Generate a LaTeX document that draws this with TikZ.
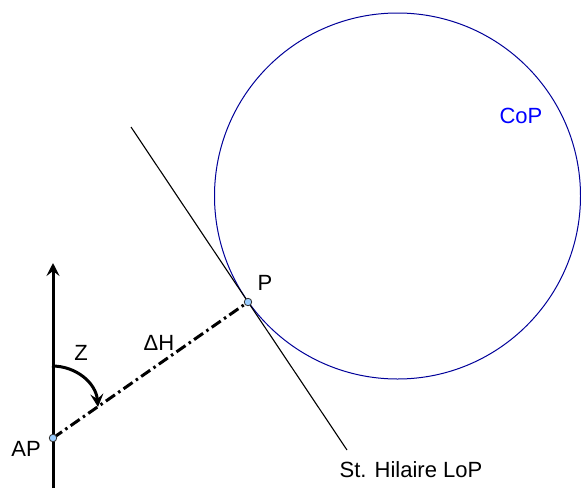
\documentclass[tikz,border=0pt]{standalone}
\usepackage{fontspec}
\setmainfont{Liberation Sans}
\usetikzlibrary{arrows.meta}
\definecolor{circblue}{RGB}{0,0,153}
\definecolor{ptfill}{RGB}{153,204,255}
\begin{document}
\begin{tikzpicture}[x=1pt,y=-1pt,
  lbl/.style={font=\fontsize{22}{26}\selectfont, inner sep=0pt},
  pt/.style={circle, draw=black!80, fill=ptfill, line width=0.8pt, minimum size=7.5pt, inner sep=0pt},
  thickline/.style={line width=3pt},
  tip/.style={-{Stealth[length=13pt,width=13pt,inset=5pt]}},
  dashdot/.style={line width=3pt, dash pattern=on 11pt off 4pt on 2.5pt off 4pt}]
\useasboundingbox (0,0) rectangle (581,488);
% circle of position
\node[draw=circblue, line width=1pt, circle, minimum size=366pt, inner sep=0pt] (cop) at (397.5,196) {};
\node[lbl, text=blue] (coplbl) at (521,116) {CoP};
% tangent line
\coordinate (t1) at (131,127);
\coordinate (t2) at (347,450);
\draw[line width=1.1pt] (t1) -- (t2);
% vertical axis
\coordinate (vbot) at (53,488);
\coordinate (vtop) at (53,263);
\draw[thickline, tip] (vbot) -- (vtop);
% points
\coordinate (APc) at (53,438);
\coordinate (Pc) at (248,302);
\draw[dashdot] (APc) -- (Pc);
% angle arc
\coordinate (zs) at (52,366);
\coordinate (ze) at (98,407);
\draw[thickline, tip] (zs) to[out=0,in=95] (ze);
\node[pt] (AP) at (APc) {};
\node[pt] (P) at (Pc) {};
% labels
\node[lbl] (APl) at (26,449) {AP};
\node[lbl] (Pl) at (265,283) {P};
\node[lbl] (Zl) at (81,353) {Z};
\node[lbl] (dH) at (159,343) {ΔH};
\node[lbl] (lop) at (411,470) {St. Hilaire LoP};
\end{tikzpicture}
\end{document}
